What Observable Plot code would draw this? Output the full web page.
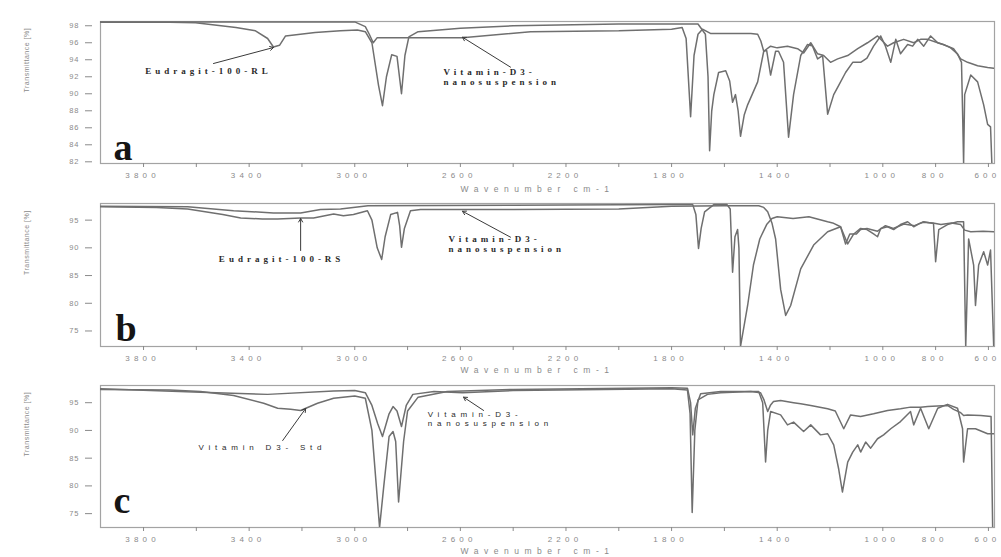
<!DOCTYPE html>
<html><head><meta charset="utf-8">
<script src="https://cdn.jsdelivr.net/npm/d3@7"></script>
<script src="https://cdn.jsdelivr.net/npm/@observablehq/plot@0.6"></script>
<style>
html,body{margin:0;padding:0;background:#fff;}
#chart svg{display:block;}
g[aria-label="x-axis tick label"] text{letter-spacing:4.2px;}
g[aria-label="y-axis tick label"] text{letter-spacing:1px;}
</style></head><body><div id="chart"></div>
<script>
// ---------- axes ----------
const xDomain = [3963, 577];
const xTickValues = [3800,3600,3400,3200,3000,2800,2600,2400,2200,2000,1800,1600,1400,1200,1000,800,600];
const xTickLabels = [3800,3400,3000,2600,2200,1800,1400,1000,800,600];
const xTitle = "Wavenumber cm-1";
const yTitle = "Transmittance [%]";
const yTicksA = [98,96,94,92,90,88,86,84,82];
const yTicksBC = [95,90,85,80,75];

// ---------- panel a: [wavenumber, %T] ----------
const a_eudragitRL = [[3963,98.4],[3700,98.4],[3603,98.35],[3450,97.8],[3376,97.4],[3330,96.5],[3308,95.5],[3285,95.7],[3262,96.8],[3150,97.2],[3054,97.4],[2990,97.5],[2960,97.3],[2935,96.0],[2910,91.0],[2895,88.6],[2880,92.0],[2860,94.6],[2840,94.4],[2823,90.0],[2810,94.5],[2795,96.7],[2760,97.3],[2600,97.7],[2400,98.0],[2000,98.2],[1700,98.2],[1672,97.0],[1662,92.0],[1656,83.3],[1648,88.0],[1640,89.9],[1622,92.5],[1595,92.7],[1580,91.5],[1569,89.0],[1558,89.9],[1548,88.0],[1539,85.0],[1525,87.5],[1512,88.7],[1474,91.4],[1451,95.0],[1440,95.1],[1425,92.2],[1406,95.0],[1395,95.0],[1376,93.7],[1357,84.9],[1338,89.9],[1311,94.5],[1285,95.8],[1266,95.6],[1247,94.1],[1228,94.5],[1209,87.6],[1186,89.9],[1167,91.0],[1141,92.5],[1114,93.7],[1084,93.7],[1060,94.2],[1035,95.6],[1008,96.8],[990,95.6],[970,93.7],[951,96.4],[933,94.7],[906,95.8],[887,95.6],[868,96.4],[845,95.6],[819,96.8],[792,96.0],[770,95.8],[743,95.4],[717,94.7],[702,93.7],[698,88.0],[694,81.8],[690,89.9],[667,92.2],[641,91.4],[618,88.7],[603,86.4],[592,86.1],[587,81.8]];
const a_nanosusp = [[3963,98.45],[3000,98.45],[2960,97.9],[2945,97.0],[2930,96.0],[2915,96.6],[2800,96.6],[2592,96.6],[2334,97.3],[2000,97.4],[1800,97.6],[1760,97.8],[1745,96.5],[1728,87.3],[1715,94.5],[1700,97.0],[1683,97.6],[1653,97.1],[1600,97.1],[1500,97.1],[1474,97.0],[1462,96.2],[1451,95.0],[1425,95.6],[1400,95.4],[1361,95.6],[1323,95.3],[1300,94.8],[1273,96.0],[1247,94.7],[1224,94.5],[1198,93.7],[1171,94.1],[1133,94.5],[1095,95.3],[1058,96.0],[1020,96.8],[982,95.6],[959,96.0],[921,96.4],[883,96.0],[857,96.4],[830,96.4],[792,96.0],[755,95.6],[732,95.3],[705,94.1],[679,93.7],[641,93.3],[603,93.1],[580,93.0]];

// ---------- panel b ----------
const b_eudragitRS = [[3963,97.4],[3750,97.3],[3633,97.0],[3500,96.0],[3432,95.4],[3350,95.2],[3292,95.2],[3205,95.4],[3156,95.4],[3080,96.1],[3043,95.8],[3005,96.0],[2952,96.7],[2935,95.0],[2915,90.0],[2898,87.9],[2885,92.0],[2864,96.0],[2838,96.4],[2830,94.0],[2823,90.1],[2812,93.5],[2789,96.7],[2751,96.9],[2400,96.9],[2000,97.0],[1800,97.5],[1600,97.6],[1470,97.6],[1451,97.3],[1436,96.5],[1420,94.5],[1406,91.6],[1387,82.5],[1368,77.8],[1349,79.6],[1311,86.2],[1262,90.5],[1209,92.9],[1160,93.8],[1141,90.7],[1125,92.5],[1100,92.5],[1084,93.3],[1060,93.5],[1020,93.0],[990,94.0],[960,93.5],[920,94.3],[880,94.0],[850,94.6],[810,94.5],[780,94.2],[740,94.5],[705,94.2],[690,93.2],[667,92.9],[620,93.0],[580,92.9]];
const b_nanosusp = [[3963,97.5],[3633,97.4],[3459,96.7],[3308,96.3],[3205,96.3],[3130,96.9],[3054,97.0],[2950,97.6],[2400,97.7],[1800,97.8],[1720,97.8],[1708,96.0],[1698,89.9],[1688,93.5],[1675,96.5],[1640,97.8],[1590,97.8],[1578,97.0],[1569,85.6],[1560,92.0],[1550,93.3],[1545,90.0],[1539,72.2],[1512,79.6],[1490,86.9],[1466,91.6],[1440,94.2],[1420,95.3],[1400,95.6],[1340,95.3],[1280,95.6],[1209,94.7],[1190,94.5],[1160,93.8],[1133,90.7],[1110,92.5],[1084,93.5],[1060,93.3],[1035,92.5],[1020,92.0],[1008,93.5],[982,93.8],[959,93.3],[933,94.2],[906,94.7],[883,93.8],[860,94.4],[845,94.7],[808,94.4],[800,87.5],[788,93.3],[755,94.2],[717,94.7],[694,94.7],[686,72.2],[675,91.6],[656,86.9],[649,79.6],[637,86.9],[618,89.3],[603,86.9],[592,89.6],[580,72.2]];

// ---------- panel c ----------
const c_std = [[3963,97.4],[3700,97.3],[3584,97.0],[3459,96.3],[3345,94.9],[3292,94.0],[3243,93.8],[3205,93.6],[3141,94.9],[3080,95.8],[3000,96.2],[2960,95.8],[2935,90.0],[2906,72.5],[2890,80.0],[2870,88.9],[2855,89.8],[2845,88.0],[2834,77.1],[2815,88.0],[2800,93.5],[2760,96.0],[2650,97.0],[2400,97.4],[1800,97.7],[1740,97.6],[1728,95.0],[1720,89.2],[1710,94.0],[1690,96.6],[1614,97.0],[1470,97.0],[1455,95.0],[1444,84.3],[1436,90.0],[1425,93.4],[1387,92.8],[1361,91.0],[1338,91.5],[1300,89.8],[1273,91.0],[1236,89.2],[1209,89.4],[1186,87.4],[1167,83.0],[1153,78.9],[1133,84.3],[1114,86.1],[1095,87.4],[1084,86.1],[1065,87.9],[1046,86.8],[1020,88.5],[997,89.2],[970,90.3],[933,91.6],[895,93.4],[883,91.0],[857,94.0],[826,90.3],[792,94.0],[755,94.7],[717,94.0],[698,90.3],[694,84.3],[679,90.3],[649,90.3],[603,89.4],[580,89.4]];
const c_nanosusp = [[3963,97.5],[3584,96.9],[3330,96.5],[3080,97.1],[3000,97.2],[2960,96.8],[2935,94.5],[2913,91.2],[2895,88.9],[2870,93.0],[2855,94.3],[2840,93.5],[2823,90.7],[2805,94.5],[2780,96.5],[2700,97.0],[2592,96.8],[2400,97.2],[1800,97.5],[1740,97.3],[1730,93.0],[1722,75.2],[1712,90.0],[1700,95.5],[1664,96.5],[1614,96.8],[1500,97.0],[1463,96.8],[1450,95.5],[1436,93.4],[1425,94.6],[1414,95.2],[1387,95.4],[1338,95.0],[1311,94.8],[1273,94.5],[1209,93.9],[1180,93.5],[1148,90.3],[1122,92.8],[1084,92.5],[1035,93.0],[982,93.6],[933,93.9],[895,94.2],[857,94.2],[830,94.3],[755,94.5],[732,93.8],[705,93.2],[694,92.7],[679,92.8],[629,92.7],[590,92.5],[584,72.5]];

// ---------- annotations (data coordinates) ----------
const notesA = [{x:3554, y:92.74, text:"Eudragit-100-RL", anchor:"middle"},{x:2664, y:91.95, text:"Vitamin-D3-\nnanosuspension", anchor:"start"}];
const arrowsA = [{x1:3535,y1:93.56,x2:3308,y2:95.44},{x1:2410,y1:93.13,x2:2592,y2:96.65}];
const notesB = [{x:3277, y:88.08, text:"Eudragit-100-RS", anchor:"middle"},{x:2645, y:90.78, text:"Vitamin-D3-\nnanosuspension", anchor:"start"}];
const arrowsB = [{x1:3205,y1:89.52,x2:3205,y2:95.29},{x1:2410,y1:91.92,x2:2592,y2:96.6}];
const notesC = [{x:3592, y:86.98, text:"Vitamin D3- Std", anchor:"start"},{x:2724, y:92.15, text:"Vitamin-D3-\nnanosuspension", anchor:"start"}];
const arrowsC = [{x1:3273,y1:88.18,x2:3186,y2:93.95},{x1:2512,y1:93.6,x2:2588,y2:96.0}];

const panels = [
  {letter:"a", height:195, mt:21, mb:32, yDomain:[81.8,98.5], yTicks:yTicksA, series:[["Eudragit-100-RL",a_eudragitRL],["Vitamin-D3-nanosuspension",a_nanosusp]], notes:notesA, arrows:arrowsA, bold:true, ldx:13, ldy:-4, xtdy:28},
  {letter:"b", height:180, mt:8, mb:29, yDomain:[72.2,98.0], yTicks:yTicksBC, series:[["Eudragit-100-RS",b_eudragitRS],["Vitamin-D3-nanosuspension",b_nanosusp]], notes:notesB, arrows:arrowsB, bold:true, ldx:15, ldy:-6, xtdy:26},
  {letter:"c", height:182, mt:10, mb:30, yDomain:[72.5,98.1], yTicks:yTicksBC, series:[["Vitamin D3- Std",c_std],["Vitamin-D3-nanosuspension",c_nanosusp]], notes:notesC, arrows:arrowsC, bold:false, ldx:13, ldy:-15, xtdy:26}
];

const labelSet = new Set(xTickLabels);
const root = document.getElementById("chart");
for (const p of panels) {
  const rows = p.series.flatMap(([name, pts]) => pts.map(([wn, T]) => ({wn, T, name})));
  const bold = p.bold;
  const noteOpts = {x: "x", y: "y", text: "text", lineHeight: 1.1, fontSize: bold ? 9 : 8, fontWeight: bold ? "bold" : "normal", fontFamily: bold ? "'Liberation Serif', serif" : "'Liberation Sans', sans-serif", fill: "#2a2a2a"};
  const startNotes = p.notes.filter(d => d.anchor === "start");
  const middleNotes = p.notes.filter(d => d.anchor === "middle");
  const svg = Plot.plot({
    width: 1001, height: p.height,
    marginLeft: 100, marginRight: 7, marginTop: p.mt, marginBottom: p.mb,
    style: {fontFamily: "'Liberation Sans', Arial, sans-serif", background: "#fff"},
    x: {domain: xDomain},
    y: {domain: p.yDomain},
    marks: [
      Plot.frame({stroke: "#a3a3a3", strokeWidth: 1.2}),
      Plot.axisY({ticks: p.yTicks, tickSize: 7, dx: -8, tickPadding: 6, fontSize: 7.5, color: "#8a8a8a", label: null, tickFormat: d => String(d)}),
      Plot.axisX({ticks: xTickValues, tickSize: 4, tickPadding: 5, fontSize: 8, color: "#8a8a8a", label: null, tickFormat: d => labelSet.has(d) ? String(d) : ""}),
      Plot.line(rows, {x: "wn", y: "T", z: "name", stroke: "#6f6f6f", strokeWidth: 1.5, clip: true}),
      Plot.text([p.letter], {frameAnchor: "bottom-left", textAnchor: "start", lineAnchor: "bottom", dx: p.ldx, dy: p.ldy, fontSize: 38, fontWeight: "bold", fontFamily: "'Liberation Serif', 'DejaVu Serif', serif", fill: "#151515"}),
      startNotes.length ? Plot.text(startNotes, {...noteOpts, textAnchor: "start"}) : null,
      middleNotes.length ? Plot.text(middleNotes, {...noteOpts, textAnchor: "middle"}) : null,
      Plot.arrow(p.arrows, {x1: "x1", y1: "y1", x2: "x2", y2: "y2", stroke: "#3a3a3a", strokeWidth: 1, headLength: 6}),
      Plot.text([yTitle], {frameAnchor: "left", dx: -74, rotate: -90, fontSize: 7, fill: "#8a8a8a"}),
      Plot.text([xTitle], {frameAnchor: "bottom", dx: -10, dy: p.xtdy, fontSize: 8.5, fill: "#8a8a8a"})
    ]
  });
  // letter spacing for the wide, scanned-looking texts, chosen by content
  const noteTexts = new Set(p.notes.map(d => d.text.replace(/\n/g, "")));
  svg.querySelectorAll('g[aria-label="text"] text').forEach(t => {
    const s = t.textContent;
    if (s === yTitle) t.style.letterSpacing = "0.5px";
    else if (s === xTitle) t.style.letterSpacing = "5.5px";
    else if (noteTexts.has(s)) t.style.letterSpacing = bold ? "4px" : "4.8px";
  });
  svg.querySelectorAll('g[aria-label="x-axis tick label"] text').forEach(t => t.setAttribute("dx", "-1"));
  root.appendChild(svg);
}
</script></body></html>
